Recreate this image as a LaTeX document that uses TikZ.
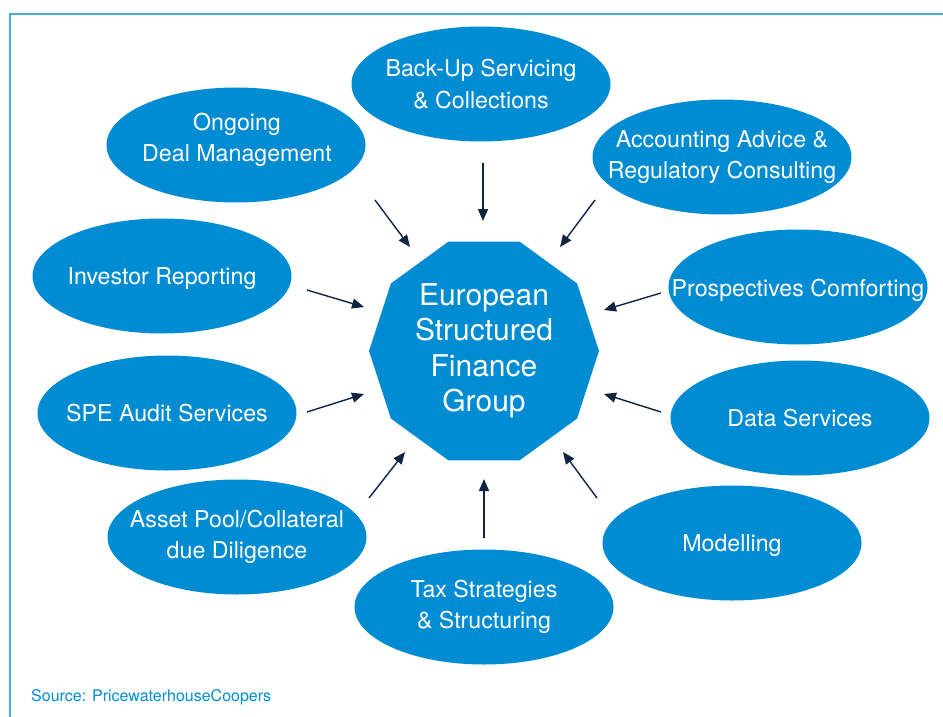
\documentclass[tikz,border=0pt]{standalone}
\usepackage{fontspec}
\setmainfont{TeX Gyre Heros}
\usetikzlibrary{shapes.geometric,arrows.meta}
\definecolor{pwcblue}{RGB}{0,140,210}
\definecolor{framblue}{RGB}{74,170,226}
\definecolor{navy}{RGB}{15,35,66}
\tikzset{
  service/.style={ellipse,fill=pwcblue,minimum width=259pt,minimum height=115pt,inner sep=0pt},
  servtext/.style={text=white,align=center,inner sep=0pt,font=\fontsize{23.2}{31.5}\selectfont},
  oneline/.style={servtext,yshift=-3pt},
  feed/.style={draw=navy,line width=1.4pt,-{Triangle[length=12pt,width=10pt]}}
}
\begin{document}
\begin{tikzpicture}[x=1pt,y=-1pt]
\useasboundingbox (0,0) rectangle (943,717);
% frame
\draw[framblue,line width=2pt] (943,14) -- (10,14) -- (10,717);
% centre
\node[regular polygon,regular polygon sides=10,minimum size=230pt,inner sep=0pt,fill=pwcblue,
  text=white,align=center,font=\fontsize{30}{35.5}\selectfont] (esfg) at (484,351)
  {European\\Structured\\Finance\\Group};
% services
\node[service] (backup) at (481,84) {};
\node[servtext] (backup-t) at (backup) {Back-Up Servicing\\\& Collections};
\node[service] (ongoing) at (236,145) {};
\node[servtext] (ongoing-t) at (237,140) {Ongoing\\Deal Management};
\node[service] (accounting) at (722,157) {};
\node[servtext] (accounting-t) at (accounting) {Accounting Advice \&\\Regulatory Consulting};
\node[service] (investor) at (162,276) {};
\node[oneline] (investor-t) at (investor) {Investor Reporting};
\node[service] (prosp) at (798,287) {};
\node[oneline] (prosp-t) at (prosp) {Prospectives Comforting};
\node[service] (spe) at (167,413) {};
\node[servtext] (spe-t) at (spe) {SPE Audit Services};
\node[service] (data) at (800,418) {};
\node[servtext] (data-t) at (data) {Data Services};
\node[service] (asset) at (237,537) {};
\node[servtext] (asset-t) at (asset) {Asset Pool/Collateral\\due Diligence};
\node[service] (modelling) at (732,543) {};
\node[oneline] (modelling-t) at (modelling) {Modelling};
\node[service] (tax) at (484,607) {};
\node[servtext] (tax-t) at (tax) {Tax Strategies\\\& Structuring};
% arrows
\foreach \n/\xa/\ya/\xb/\yb in {ongoing/375/200/410/247, backup/483/163/483/221,
    accounting/595/200/560/247, investor/307/290/364/307,
    prosp/661/293/604/310, spe/307/412/364/394,
    data/661/412/604/394, asset/369/498/405/452,
    tax/484/538/484/479, modelling/597/498/563/452}{
  \coordinate (\n-a) at (\xa,\ya);
  \coordinate (\n-b) at (\xb,\yb);
  \draw[feed] (\n-a) -- (\n-b);
}
% source
\node[text=pwcblue,anchor=west,inner sep=0pt,font=\fontsize{16}{19}\selectfont] (source) at (31,697)
  {Source: PricewaterhouseCoopers};
\end{tikzpicture}
\end{document}
